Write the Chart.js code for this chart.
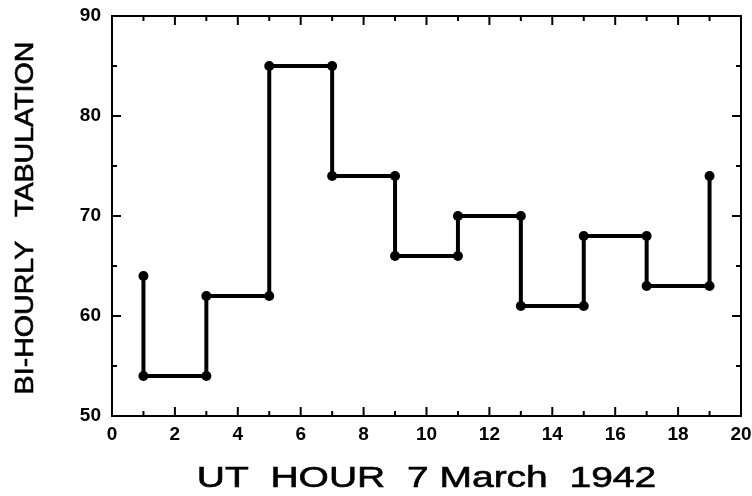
<!DOCTYPE html>
<html>
<head>
<meta charset="utf-8">
<title>Bi-hourly tabulation, 7 March 1942</title>
<script src="https://cdn.jsdelivr.net/npm/chart.js@4/dist/chart.umd.min.js"></script>
<style>
  body { margin: 0; background: #fff; }
  canvas { display: block; }
</style>
</head>
<body>
<canvas id="grafico" width="752" height="496"></canvas>
<script>
// step curve vertices: each bi-hourly value is held over two hours
const stepHours  = [1, 1, 3, 3, 5, 5, 7, 7, 9, 9, 11, 11, 13, 13, 15, 15, 17, 17, 19, 19];
const stepValues = [64, 54, 54, 62, 62, 85, 85, 74, 74, 66, 66, 70, 70, 61, 61, 68, 68, 63, 63, 74];

const xRange = [0, 20];
const yRange = [50, 90];
const xTitle = 'UT  HOUR  7 March  1942';
const yTitle = 'BI-HOURLY   TABULATION';

const FONT = '"Liberation Sans", Arial, Helvetica, sans-serif';

const pontos = stepHours.map((h, i) => ({ x: h, y: stepValues[i] }));

// box around the plot, inward ticks on all four sides, and the axis titles
const moldura = {
  id: 'moldura',
  beforeDatasetsDraw(chart) {
    const { ctx, chartArea: a, scales: { x, y } } = chart;
    ctx.save();
    ctx.strokeStyle = '#000';
    ctx.lineWidth = 2;
    ctx.strokeRect(a.left, a.top, a.right - a.left, a.bottom - a.top);

    ctx.beginPath();
    for (let v = xRange[0] + 1; v < xRange[1]; v++) {
      const px = x.getPixelForValue(v);
      const len = v % 2 === 0 ? 9 : 5;
      ctx.moveTo(px, a.bottom); ctx.lineTo(px, a.bottom - len);
      ctx.moveTo(px, a.top);    ctx.lineTo(px, a.top + len);
    }
    for (let v = yRange[0] + 5; v < yRange[1]; v += 5) {
      const py = y.getPixelForValue(v);
      const len = v % 10 === 0 ? 9 : 5;
      ctx.moveTo(a.left, py);  ctx.lineTo(a.left + len, py);
      ctx.moveTo(a.right, py); ctx.lineTo(a.right - len, py);
    }
    ctx.stroke();
    ctx.restore();
  },
  afterDraw(chart) {
    const { ctx, chartArea: a } = chart;
    ctx.save();
    ctx.fillStyle = '#000';
    ctx.strokeStyle = '#000';
    ctx.lineWidth = 0.6;
    ctx.textAlign = 'center';
    ctx.textBaseline = 'alphabetic';

    // the lettering of the titles is wide, so stretch it sideways
    ctx.font = '30px ' + FONT;
    ctx.save();
    ctx.translate((a.left + a.right) / 2, 487);
    ctx.scale(1.3, 1);
    ctx.fillText(xTitle, 0, 0);
    ctx.strokeText(xTitle, 0, 0);
    ctx.restore();

    ctx.font = '26px ' + FONT;
    ctx.save();
    ctx.translate(33, (a.top + a.bottom) / 2 + 2);
    ctx.rotate(-Math.PI / 2);
    ctx.scale(1.1, 1);
    ctx.fillText(yTitle, 0, 0);
    ctx.strokeText(yTitle, 0, 0);
    ctx.restore();

    ctx.restore();
  }
};

new Chart(document.getElementById('grafico'), {
  type: 'line',
  data: {
    datasets: [{
      data: pontos,
      borderColor: '#000',
      backgroundColor: '#000',
      borderWidth: 4,
      pointRadius: 5,
      pointHoverRadius: 5,
      pointBorderWidth: 0,
      tension: 0,
      fill: false
    }]
  },
  options: {
    responsive: false,
    animation: false,
    layout: { padding: { top: 16, right: 11, left: 0, bottom: 0 } },
    plugins: {
      legend: { display: false },
      tooltip: { enabled: false }
    },
    scales: {
      x: {
        type: 'linear',
        min: xRange[0],
        max: xRange[1],
        grid: { display: false, drawTicks: false },
        border: { display: false },
        ticks: {
          stepSize: 2,
          padding: 7,
          color: '#000',
          font: { family: FONT, size: 19, weight: 'bold' }
        },
        afterFit(scale) {
          scale.height = 80;
          scale.paddingLeft = 0;
          scale.paddingRight = 0;
        }
      },
      y: {
        min: yRange[0],
        max: yRange[1],
        grid: { display: false, drawTicks: false },
        border: { display: false },
        ticks: {
          stepSize: 10,
          padding: 11,
          color: '#000',
          font: { family: FONT, size: 19, weight: 'bold' }
        },
        afterFit(scale) {
          scale.width = 112;
          scale.paddingTop = 0;
          scale.paddingBottom = 0;
        }
      }
    }
  },
  plugins: [moldura]
});
</script>
</body>
</html>
